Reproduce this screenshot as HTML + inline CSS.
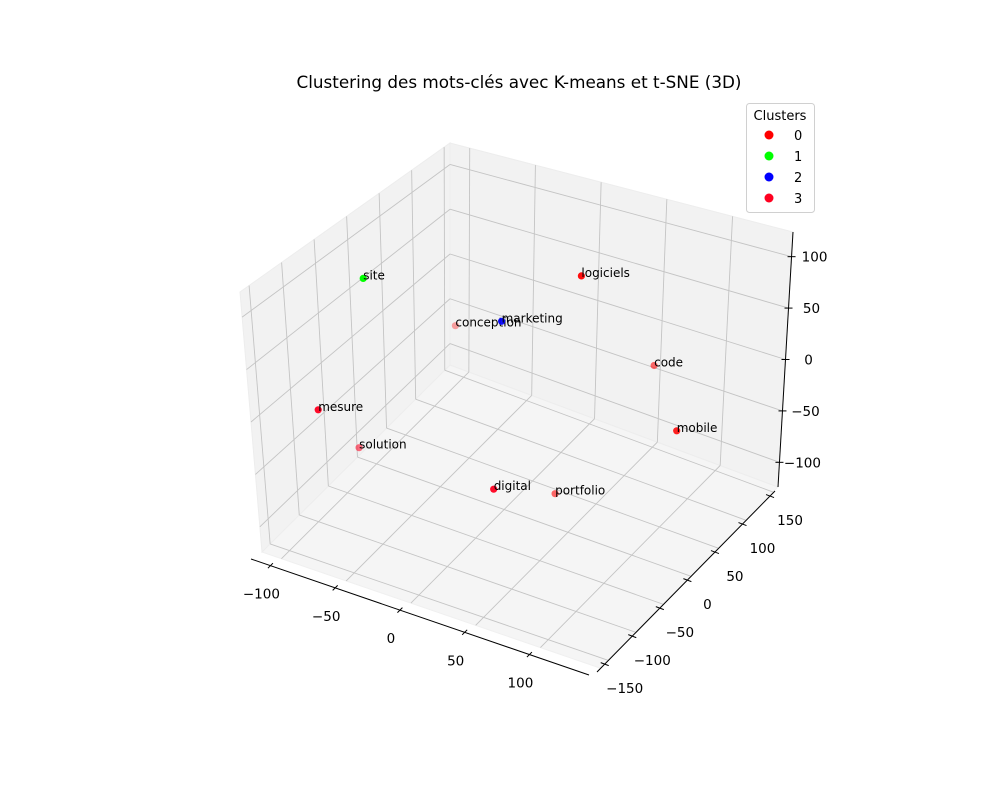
<!DOCTYPE html>
<html><head><meta charset="utf-8"><style>
body{margin:0;background:#fff;}
svg{display:block;font-family:"DejaVu Sans","Liberation Sans",sans-serif;}
</style></head><body>
<svg id="chart" width="1000" height="800" viewBox="0 0 1000 800">
<rect width="1000" height="800" fill="#fff"/>
<text x="519" y="88" font-size="16.8" text-anchor="middle">Clustering des mots-clés avec K-means et t-SNE (3D)</text>
<g id="panes"></g>
<g id="grid"></g>
<g id="axes"></g>
<g id="points"></g>
<g>
<rect x="746.5" y="103.5" width="68" height="109" rx="3" fill="#fff" stroke="#d0d0d0"/>
<text x="780" y="120" font-size="13" text-anchor="middle">Clusters</text>
<g><circle cx="769" cy="135" r="4.5" fill="#ff0000"/><text x="794" y="140" font-size="13">0</text></g>
<g><circle cx="769" cy="156" r="4.5" fill="#00ff00"/><text x="794" y="161" font-size="13">1</text></g>
<g><circle cx="769" cy="177" r="4.5" fill="#0000ff"/><text x="794" y="182" font-size="13">2</text></g>
<g><circle cx="769" cy="198" r="4.5" fill="#ff0020"/><text x="794" y="203" font-size="13">3</text></g>
</g>
</svg>
<script>
const words = ["site","logiciels","conception","marketing","code","mesure","mobile","solution","digital","portfolio"];
const xVals = [-80, 36, -83, -1, 62, -85, 115, -94, 28, 31];
const yVals = [-50, 50, 100, 0, 120, -120, 40, -40, -80, 20];
const zVals = [97, 93, -30, 59, -20, 1, -22, -82, -51, -106];
const clusters = [1, 0, 0, 2, 0, 3, 0, 3, 3, 0];
const clusterColors = ["#ff0000","#00ff00","#0000ff","#ff0020"];
const xTicks = [-100,-50,0,50,100];
const yTicks = [-150,-100,-50,0,50,100,150];
const zTicks = [-100,-50,0,50,100];
const xLim=[-115,146], yLim=[-164,159], zLim=[-124,124];
const C={ '000':[262,552],'100':[600,668],'010':[450,365],'110':[778,487],
          '001':[240,292],'101':[605,378],'011':[450,143],'111':[793,232]};
function lerp(a,b,t){return [a[0]+(b[0]-a[0])*t,a[1]+(b[1]-a[1])*t];}
function proj(x,y,z){
  const u=(x-xLim[0])/(xLim[1]-xLim[0]), v=(y-yLim[0])/(yLim[1]-yLim[0]), w=(z-zLim[0])/(zLim[1]-zLim[0]);
  const b=lerp(lerp(C['000'],C['100'],u),lerp(C['010'],C['110'],u),v);
  const t=lerp(lerp(C['001'],C['101'],u),lerp(C['011'],C['111'],u),v);
  return lerp(b,t,w);
}
const NS="http://www.w3.org/2000/svg";
function mk(tag,attrs,parent){const e=document.createElementNS(NS,tag);for(const k in attrs)e.setAttribute(k,attrs[k]);parent.appendChild(e);return e;}
function poly(pts){return pts.map(p=>p[0].toFixed(1)+','+p[1].toFixed(1)).join(' ');}
const panes=document.getElementById('panes'), grid=document.getElementById('grid'), axes=document.getElementById('axes'), ptsG=document.getElementById('points');
let p;
p=mk('polygon',{points:poly([proj(xLim[0],yLim[0],zLim[0]),proj(xLim[1],yLim[0],zLim[0]),proj(xLim[1],yLim[1],zLim[0]),proj(xLim[0],yLim[1],zLim[0])]),fill:'#f5f5f5',stroke:'#f0f0f0'},panes);


p=mk('polygon',{points:poly([proj(xLim[0],yLim[0],zLim[0]),proj(xLim[0],yLim[1],zLim[0]),proj(xLim[0],yLim[1],zLim[1]),proj(xLim[0],yLim[0],zLim[1])]),fill:'#f2f2f2',stroke:'#ededed'},panes);


p=mk('polygon',{points:poly([proj(xLim[0],yLim[1],zLim[0]),proj(xLim[1],yLim[1],zLim[0]),proj(xLim[1],yLim[1],zLim[1]),proj(xLim[0],yLim[1],zLim[1])]),fill:'#f2f2f2',stroke:'#ededed'},panes);


function gl(a,b){const l=mk('line',{x1:a[0],y1:a[1],x2:b[0],y2:b[1],stroke:'#c4c4c4','stroke-width':0.9},grid);

}
xTicks.forEach(t=>{gl(proj(t,yLim[0],zLim[0]),proj(t,yLim[1],zLim[0]));gl(proj(t,yLim[1],zLim[0]),proj(t,yLim[1],zLim[1]));});
yTicks.forEach(t=>{gl(proj(xLim[0],t,zLim[0]),proj(xLim[1],t,zLim[0]));gl(proj(xLim[0],t,zLim[0]),proj(xLim[0],t,zLim[1]));});
zTicks.forEach(t=>{gl(proj(xLim[0],yLim[0],t),proj(xLim[0],yLim[1],t));gl(proj(xLim[0],yLim[1],t),proj(xLim[1],yLim[1],t));});
function al(a,b,name){const l=mk('line',{x1:a[0],y1:a[1],x2:b[0],y2:b[1],stroke:'#000','stroke-width':1},axes);

}
function off(p,d){return [p[0]+d[0],p[1]+d[1]];}
const xo=[-11,7], yo=[-3,4], zo=[0,0];
al(off(proj(xLim[0],yLim[0],zLim[0]),xo),off(proj(xLim[1],yLim[0],zLim[0]),xo),'x-axis-line');
al(off(proj(xLim[1],yLim[0],zLim[0]),yo),off(proj(xLim[1],yLim[1],zLim[0]),yo),'y-axis-line');
al(off(proj(xLim[1],yLim[1],zLim[0]),zo),off(proj(xLim[1],yLim[1],zLim[1]),zo),'z-axis-line');
function tick(pt,dx,dy,lab,lx,ly,name,anchor){
  al([pt[0]-dx,pt[1]-dy],[pt[0]+dx,pt[1]+dy],name+'-tick');
  const t=mk('text',{x:pt[0]+lx,y:pt[1]+ly,'font-size':13.5,'text-anchor':anchor},axes);
  t.textContent=String(lab).replace('-','\u2212');
  
  
}
xTicks.forEach(v=>tick(off(proj(v,yLim[0],zLim[0]),xo),2.5,-2.5,v,-9,33,'x-axis','middle'));
yTicks.forEach(v=>tick(off(proj(xLim[1],v,zLim[0]),yo),4,1.5,v,20,29,'y-axis','middle'));
zTicks.forEach(v=>tick(off(proj(xLim[1],yLim[1],v),zo),4,0,v,23,5,'z-axis','middle'));
const close=words.map((w,i)=>0.433*xVals[i]/261-0.75*yVals[i]/323+0.5*zVals[i]/248);
const cmin=Math.min(...close), cmax=Math.max(...close);
const order=words.map((w,i)=>i).sort((a,b)=>close[a]-close[b]);
order.forEach(i=>{
  const q=proj(xVals[i],yVals[i],zVals[i]);
  const a=0.35+0.65*(close[i]-cmin)/(cmax-cmin);
  const c=mk('circle',{cx:q[0].toFixed(1),cy:q[1].toFixed(1),r:3.6,fill:clusterColors[clusters[i]],'fill-opacity':a.toFixed(2)},ptsG);
  
  
  const t=mk('text',{x:(q[0]).toFixed(1),y:(q[1]+1).toFixed(1),'font-size':12},ptsG);
  t.textContent=words[i];
  
  
});
</script>
</body></html>
